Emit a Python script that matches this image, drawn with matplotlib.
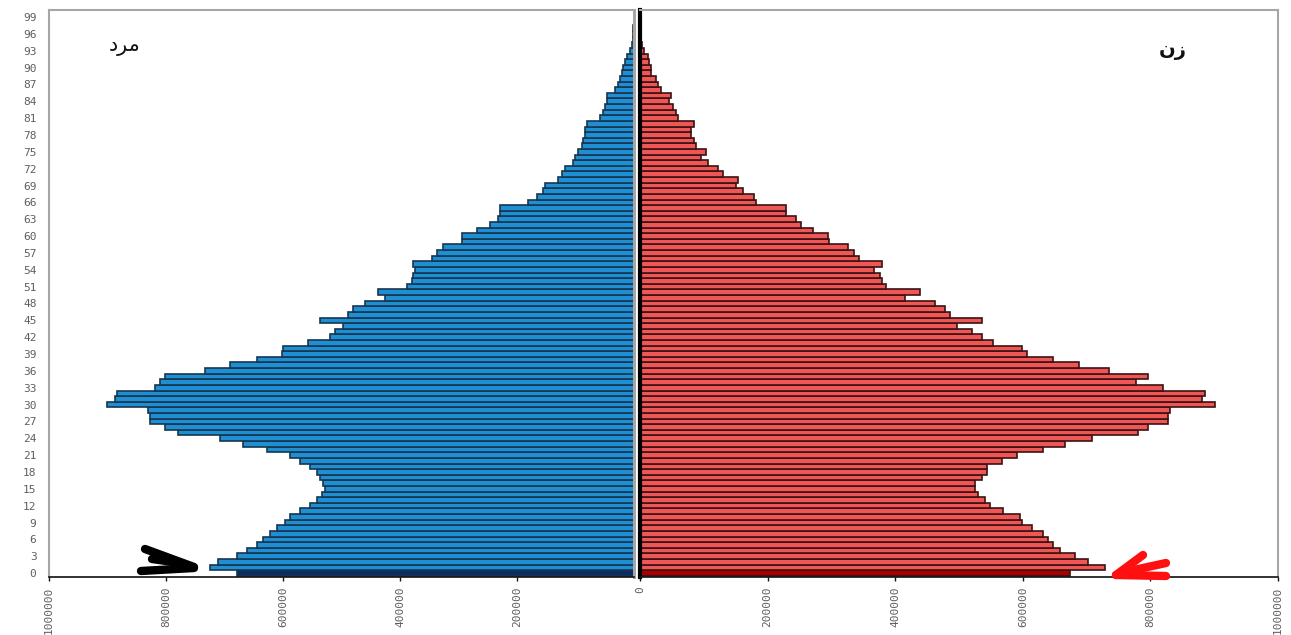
"""Population pyramid (male / female by single year of age)."""

import matplotlib

matplotlib.use("Agg")
import matplotlib.pyplot as plt  # noqa: E402
import numpy as np  # noqa: E402

W, H = 1291, 635

ages = list(range(100))

# male population by age 0..99
male = [
    678000, 725000, 711000, 678000, 661000, 644000, 634000, 622000, 610000, 596000,
    588000, 571000, 554000, 542000, 533000, 528000, 531000, 537000, 542000, 554000,
    571000, 588000, 627000, 668000, 708000, 779000, 802000, 827000, 827000, 831000,
    901000, 887000, 884000, 819000, 810000, 802000, 733000, 690000, 644000, 602000,
    600000, 557000, 520000, 511000, 497000, 537000, 489000, 480000, 460000, 426000,
    437000, 388000, 379000, 378000, 374000, 378000, 345000, 337000, 326000, 294000,
    294000, 268000, 246000, 232000, 229000, 229000, 181000, 166000, 156000, 152000,
    130000, 123000, 118000, 104000, 101000, 96000, 89000, 87000, 84000, 84000,
    80000, 58000, 53000, 50000, 47000, 46000, 33000, 27000, 24000, 21000,
    19000, 15000, 12000, 7000, 3000, 2000, 1000, 1000, 0, 0,
]

# female population by age 0..99
female = [
    674000, 729000, 702000, 682000, 658000, 647000, 639000, 632000, 614000, 598000,
    595000, 569000, 548000, 541000, 530000, 525000, 525000, 536000, 544000, 544000,
    567000, 591000, 632000, 666000, 708000, 780000, 796000, 827000, 827000, 831000,
    901000, 881000, 885000, 819000, 778000, 796000, 735000, 688000, 647000, 606000,
    598000, 553000, 536000, 520000, 497000, 536000, 486000, 478000, 462000, 415000,
    439000, 386000, 380000, 376000, 366000, 379000, 343000, 335000, 326000, 296000,
    294000, 271000, 252000, 244000, 229000, 229000, 182000, 179000, 161000, 150000,
    153000, 130000, 122000, 107000, 96000, 103000, 88000, 85000, 80000, 80000,
    85000, 60000, 56000, 52000, 46000, 49000, 33000, 28000, 25000, 17000,
    17000, 14000, 12000, 7000, 3000, 2000, 1000, 1000, 0, 0,
]

age_ticks = list(range(0, 100, 3))
male_ticks = [-1000000, -800000, -600000, -400000, -200000]
female_ticks = [0, 200000, 400000, 600000, 800000, 1000000]

label_male = "\uFEA9\uFEAE\uFEE3"    # مرد (shaped, visual order)
label_female = "\uFEE5\uFEAF"        # زن (shaped, visual order)

BLUE, BLUE_EDGE, BLUE_DARK = "#1f8fd4", "#173650", "#0b2d63"
RED, RED_EDGE, RED_DARK = "#ef5656", "#3d1212", "#a80000"
FRAME = "#a6a6a6"
TICK = "#5f5f5f"


def px(x, y):
    """pixel position -> figure fraction"""
    return x / W, 1 - y / H


fig = plt.figure(figsize=(W / 100, H / 100), dpi=100)
bottom, height = 1 - 577 / H, 567 / H
axl = fig.add_axes([49 / W, bottom, 585 / W, height])
axr = fig.add_axes([640 / W, bottom, 638 / W, height])

m = -np.array(male, dtype=float)
f = np.array(female, dtype=float)
mcol = [BLUE_DARK if a == 0 else BLUE for a in ages]
fcol = [RED_DARK if a == 0 else RED for a in ages]
axl.barh(ages, m, height=1.0, color=mcol, edgecolor=BLUE_EDGE, linewidth=1.2)
axr.barh(ages, f, height=1.0, color=fcol, edgecolor=RED_EDGE, linewidth=1.2)

for ax in (axl, axr):
    ax.set_ylim(-0.7, 100.25)
    for s in ("top", "left", "right"):
        ax.spines[s].set_color(FRAME)
        ax.spines[s].set_linewidth(1.5)
    ax.spines["bottom"].set_color("#111111")
    ax.spines["bottom"].set_linewidth(1.2)
    ax.tick_params(axis="x", direction="out", length=3, width=1, color="#111111",
                   labelsize=8, labelcolor=TICK, labelrotation=90, pad=4)

axl.set_xlim(-1000000, 0)
axr.set_xlim(0, 1000000)
axl.set_xticks(male_ticks)
axl.set_xticklabels([str(-v) for v in male_ticks], family="DejaVu Sans Mono")
axr.set_xticks(female_ticks)
axr.set_xticklabels([str(v) for v in female_ticks], family="DejaVu Sans Mono")

axl.spines["right"].set_linewidth(2.2)
axr.spines["left"].set_color("#000000")
axr.spines["left"].set_linewidth(3.0)

axl.set_yticks(age_ticks)
axl.set_yticklabels([str(a) for a in age_ticks], family="DejaVu Sans Mono")
axl.tick_params(axis="y", length=0, labelsize=8, labelcolor=TICK, pad=9)
axr.set_yticks([])

fig.text(*px(125, 46), label_male, family="DejaVu Sans", fontsize=15,
         ha="center", va="center", color="#111111")
fig.text(*px(1173, 50), label_female, family="DejaVu Sans", fontsize=14,
         fontweight="bold", ha="center", va="center", color="#111111")

# hand drawn pointers at the base of the pyramid
black_arrow = [[(145, 549), (194, 567)], [(141, 571), (194, 568)], [(152, 559), (180, 563)]]
red_arrow = [[(1116, 575), (1143, 555)], [(1116, 575), (1166, 576)], [(1120, 573), (1166, 563)]]
for pts, col in ((black_arrow, "black"), (red_arrow, "#ff1010")):
    for (x0, y0), (x1, y1) in pts:
        a, b = px(x0, y0)
        c, d = px(x1, y1)
        fig.add_artist(plt.Line2D([a, c], [b, d], color=col, lw=6,
                                  solid_capstyle="round", transform=fig.transFigure))

fig.savefig("out.png", dpi=100, facecolor="white")
